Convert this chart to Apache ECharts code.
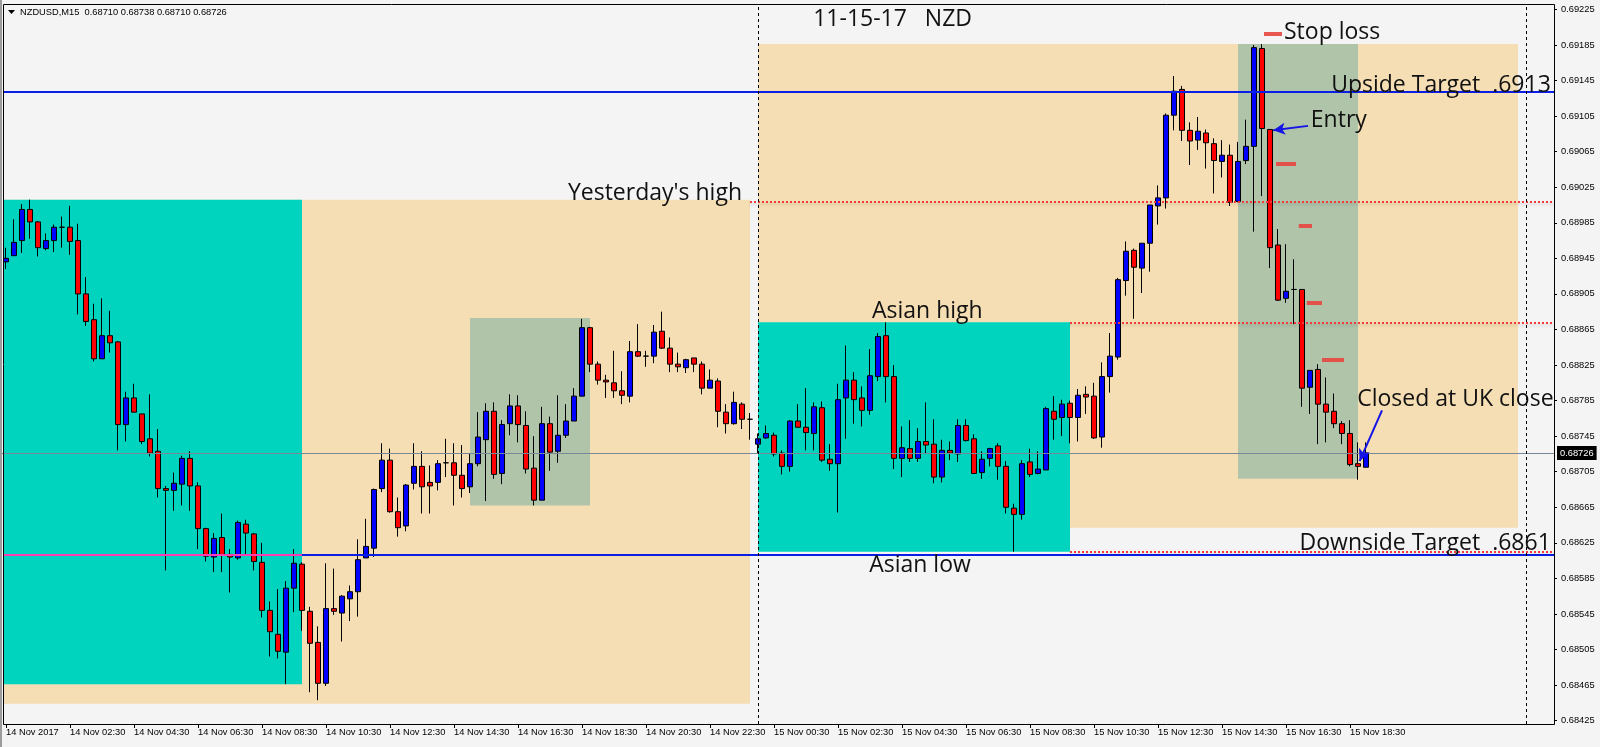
<!DOCTYPE html>
<html><head><meta charset="utf-8">
<script src="https://cdn.jsdelivr.net/npm/echarts@6/dist/echarts.min.js"></script>
<style>html,body{margin:0;padding:0;background:#F4F4F4;}#c{width:1600px;height:747px;}</style>
</head><body><div id="c"></div>
<script>
// ---- DATA ----
const headerText = 'NZDUSD,M15  0.68710 0.68738 0.68710 0.68726';
// candles: [open, close, low, high], 15-minute bars from 14 Nov 00:30
const ohlc = [
[0.68941,0.68945,0.68933,0.68957],[0.68948,0.68963,0.68948,0.68989],[0.68965,0.69000,0.68951,0.69006],[0.69000,0.68986,0.68967,0.69011],
[0.68986,0.68957,0.68947,0.68987],[0.68956,0.68965,0.68954,0.68973],[0.68965,0.68980,0.68952,0.68983],[0.68980,0.68980,0.68957,0.68992],
[0.68980,0.68964,0.68949,0.69004],[0.68965,0.68905,0.68882,0.68984],[0.68905,0.68874,0.68869,0.68924],[0.68876,0.68832,0.68829,0.68894],
[0.68832,0.68858,0.68832,0.68900],[0.68858,0.68850,0.68839,0.68886],[0.68851,0.68758,0.68729,0.68852],[0.68758,0.68788,0.68739,0.68795],
[0.68788,0.68772,0.68772,0.68804],[0.68770,0.68739,0.68736,0.68770],[0.68742,0.68726,0.68722,0.68792],[0.68728,0.68686,0.68676,0.68753],
[0.68686,0.68684,0.68594,0.68689],[0.68684,0.68692,0.68661,0.68704],[0.68691,0.68720,0.68667,0.68723],[0.68720,0.68689,0.68661,0.68728],
[0.68689,0.68641,0.68618,0.68693],[0.68641,0.68610,0.68604,0.68642],[0.68609,0.68630,0.68592,0.68636],[0.68631,0.68612,0.68592,0.68658],
[0.68612,0.68609,0.68569,0.68618],[0.68608,0.68648,0.68606,0.68650],[0.68646,0.68636,0.68612,0.68651],[0.68635,0.68604,0.68594,0.68636],
[0.68603,0.68549,0.68541,0.68625],[0.68549,0.68525,0.68497,0.68559],[0.68522,0.68503,0.68495,0.68573],[0.68502,0.68574,0.68466,0.68582],
[0.68574,0.68602,0.68547,0.68618],[0.68601,0.68549,0.68526,0.68603],[0.68548,0.68512,0.68457,0.68553],[0.68513,0.68467,0.68448,0.68531],
[0.68467,0.68551,0.68464,0.68602],[0.68551,0.68548,0.68544,0.68596],[0.68546,0.68565,0.68514,0.68566],[0.68562,0.68570,0.68537,0.68577],
[0.68570,0.68606,0.68542,0.68629],[0.68608,0.68621,0.68608,0.68652],[0.68619,0.68685,0.68609,0.68686],[0.68686,0.68718,0.68682,0.68737],
[0.68718,0.68660,0.68659,0.68731],[0.68660,0.68642,0.68632,0.68676],[0.68644,0.68690,0.68638,0.68691],[0.68692,0.68711,0.68685,0.68737],
[0.68711,0.68688,0.68658,0.68728],[0.68693,0.68689,0.68658,0.68712],[0.68693,0.68714,0.68684,0.68718],[0.68715,0.68715,0.68699,0.68742],
[0.68715,0.68701,0.68667,0.68737],[0.68701,0.68686,0.68676,0.68735],[0.68688,0.68714,0.68681,0.68726],[0.68714,0.68744,0.68711,0.68772],
[0.68741,0.68773,0.68672,0.68782],[0.68773,0.68702,0.68697,0.68783],[0.68703,0.68758,0.68691,0.68763],[0.68759,0.68779,0.68746,0.68792],
[0.68779,0.68758,0.68738,0.68791],[0.68757,0.68708,0.68703,0.68773],[0.68709,0.68673,0.68667,0.68745],[0.68673,0.68759,0.68673,0.68778],
[0.68759,0.68727,0.68706,0.68767],[0.68728,0.68746,0.68715,0.68791],[0.68746,0.68762,0.68743,0.68781],[0.68762,0.68790,0.68762,0.68799],
[0.68790,0.68867,0.68790,0.68877],[0.68867,0.68826,0.68817,0.68868],[0.68826,0.68808,0.68803,0.68829],[0.68808,0.68806,0.68788,0.68814],
[0.68805,0.68796,0.68788,0.68841],[0.68796,0.68791,0.68781,0.68818],[0.68790,0.68840,0.68783,0.68852],[0.68840,0.68835,0.68834,0.68871],
[0.68835,0.68835,0.68823,0.68841],[0.68835,0.68862,0.68827,0.68870],[0.68863,0.68844,0.68843,0.68885],[0.68844,0.68826,0.68817,0.68856],
[0.68826,0.68823,0.68817,0.68839],[0.68822,0.68831,0.68816,0.68832],[0.68833,0.68826,0.68817,0.68833],[0.68826,0.68799,0.68792,0.68829],
[0.68799,0.68808,0.68799,0.68820],[0.68807,0.68773,0.68755,0.68810],[0.68772,0.68759,0.68748,0.68781],[0.68759,0.68783,0.68758,0.68795],
[0.68781,0.68764,0.68753,0.68783],[0.68764,0.68764,0.68741,0.68771],[0.68736,0.68742,0.68726,0.68748],[0.68743,0.68748,0.68742,0.68757],
[0.68746,0.68725,0.68722,0.68749],[0.68726,0.68711,0.68702,0.68729],[0.68711,0.68762,0.68705,0.68763],[0.68762,0.68755,0.68755,0.68781],
[0.68755,0.68749,0.68729,0.68799],[0.68748,0.68778,0.68729,0.68783],[0.68777,0.68718,0.68716,0.68784],[0.68719,0.68714,0.68706,0.68736],
[0.68714,0.68786,0.68659,0.68804],[0.68788,0.68808,0.68742,0.68847],[0.68808,0.68786,0.68759,0.68817],[0.68788,0.68774,0.68756,0.68801],
[0.68774,0.68813,0.68769,0.68843],[0.68812,0.68857,0.68807,0.68861],[0.68858,0.68812,0.68783,0.68873],[0.68812,0.68720,0.68708,0.68825],
[0.68720,0.68732,0.68699,0.68756],[0.68731,0.68720,0.68716,0.68763],[0.68720,0.68739,0.68716,0.68754],[0.68739,0.68735,0.68726,0.68783],
[0.68736,0.68699,0.68692,0.68764],[0.68699,0.68729,0.68693,0.68741],[0.68729,0.68726,0.68718,0.68739],[0.68725,0.68757,0.68716,0.68764],
[0.68757,0.68740,0.68739,0.68764],[0.68742,0.68703,0.68703,0.68747],[0.68704,0.68719,0.68697,0.68728],[0.68720,0.68731,0.68711,0.68732],
[0.68734,0.68711,0.68696,0.68737],[0.68711,0.68665,0.68658,0.68717],[0.68664,0.68657,0.68615,0.68669],[0.68657,0.68714,0.68651,0.68718],
[0.68716,0.68702,0.68699,0.68731],[0.68703,0.68708,0.68702,0.68728],[0.68707,0.68776,0.68707,0.68778],[0.68773,0.68764,0.68741,0.68790],
[0.68766,0.68781,0.68745,0.68786],[0.68782,0.68766,0.68737,0.68785],[0.68766,0.68791,0.68739,0.68798],[0.68792,0.68789,0.68770,0.68801],
[0.68790,0.68743,0.68742,0.68805],[0.68744,0.68812,0.68732,0.68828],[0.68812,0.68835,0.68794,0.68861],[0.68834,0.68921,0.68831,0.68923],
[0.68920,0.68953,0.68903,0.68964],[0.68954,0.68935,0.68877,0.68956],[0.68934,0.68962,0.68906,0.68962],[0.68962,0.69005,0.68930,0.69005],
[0.69004,0.69013,0.68983,0.69027],[0.69013,0.69106,0.69001,0.69108],[0.69106,0.69133,0.69089,0.69150],[0.69135,0.69089,0.69077,0.69139],
[0.69089,0.69077,0.69050,0.69098],[0.69078,0.69088,0.69067,0.69104],[0.69086,0.69075,0.69046,0.69090],[0.69074,0.69055,0.69018,0.69080],
[0.69054,0.69061,0.69036,0.69078],[0.69061,0.69008,0.69004,0.69073],[0.69009,0.69054,0.69008,0.69076],[0.69055,0.69071,0.69051,0.69101],
[0.69071,0.69182,0.68975,0.69185],[0.69181,0.69091,0.69015,0.69186],[0.69090,0.68957,0.68934,0.69090],[0.68960,0.68898,0.68897,0.68978],
[0.68900,0.68908,0.68895,0.68961],[0.68910,0.68910,0.68871,0.68944],[0.68910,0.68799,0.68778,0.68910],[0.68800,0.68819,0.68770,0.68819],
[0.68820,0.68781,0.68736,0.68826],[0.68781,0.68772,0.68738,0.68811],[0.68773,0.68759,0.68754,0.68793],[0.68759,0.68748,0.68736,0.68762],
[0.68748,0.68713,0.68711,0.68763],[0.68714,0.68711,0.68696,0.68738],[0.68710,0.68726,0.68710,0.68738]
];
const xTickLabels = ['14 Nov 2017','14 Nov 02:30','14 Nov 04:30','14 Nov 06:30','14 Nov 08:30','14 Nov 10:30','14 Nov 12:30',
 '14 Nov 14:30','14 Nov 16:30','14 Nov 18:30','14 Nov 20:30','14 Nov 22:30','15 Nov 00:30','15 Nov 02:30','15 Nov 04:30',
 '15 Nov 06:30','15 Nov 08:30','15 Nov 10:30','15 Nov 12:30','15 Nov 14:30','15 Nov 16:30','15 Nov 18:30'];
const yTickValues = [0.68425,0.68465,0.68505,0.68545,0.68585,0.68625,0.68665,0.68705,0.68745,0.68785,0.68825,
 0.68865,0.68905,0.68945,0.68985,0.69025,0.69065,0.69105,0.69145,0.69185,0.69225];
const currentPrice = 0.68726;
const upsideTarget = 0.69132, downsideTarget = 0.68612;
const yesterdayHigh = 0.69009, asianHigh = 0.68873, asianLow = 0.68615;
// zones: bar-index start/end, price high/low
const zoneStart = [-0.25, -0.25, 58, 94, 94, 154];
const zoneEnd   = [93, 37, 73, 189, 133, 169];
const zoneHigh  = [0.69011, 0.69011, 0.68878, 0.69186, 0.68873, 0.69186];
const zoneLow   = [0.68444, 0.68466, 0.68667, 0.68642, 0.68615, 0.68697];
// order-level marks: [startIdx, endIdx, price]
const levelMarks = [[157.25,159.5,0.69198],[158.75,161.25,0.69051],[161.6,163.25,0.68982],[162.6,164.5,0.68895],[164.5,167.25,0.68831]];
// arrows: [fromIdx, fromPrice, toIdx, toPrice]
const arrows = [[162.75,0.69094,158.4,0.69089],[172,0.68774,169.2,0.68717]];
const daySeparators = [94, 190];
const annTexts = ['11-15-17   NZD','Stop loss','Upside Target  .6913','Entry',"Yesterday's high",'Asian high','Closed at UK close','Downside Target  .6861','Asian low'];
const annX     = [100.9, 159.75, 193.1, 163.1, 92, 108.25, 168.9, 193.1, 107.9];
const annPrice = [0.69214, 0.69199, 0.69140, 0.69100, 0.69018, 0.68885, 0.68786, 0.68624, 0.68599];

// ---- CHART ----
const N = 194;
const categories = [];
for (let i = 0; i < N; i++) {
  const m = 30 + 15 * i; const d = 14 + Math.floor(m / 1440); const mm = m % 1440;
  categories.push(d + ' Nov ' + String(Math.floor(mm / 60)).padStart(2, '0') + ':' + String(mm % 60).padStart(2, '0'));
}
const zoneColors = ['#F5DEB3', '#00D4BE', '#B0C4A9', '#F5DEB3', '#00D4BE', '#B0C4A9'];
const rightAligned = ['Upside Target  .6913', "Yesterday's high", 'Downside Target  .6861'];
const FONT = 'Liberation Sans';
const XMAX = 193.5, XMIN = -0.25;
const blue = '#0A1EE6';
const dotted = {color: '#F23A3A', width: 2, type: [2, 2], shadowColor: 'rgba(0,0,0,0.18)', shadowBlur: 3, shadowOffsetY: 2};

const lineItems = [
  [{coord: [XMIN, upsideTarget], lineStyle: {color: blue, width: 2, type: 'solid'}}, {coord: [XMAX, upsideTarget]}],
  [{coord: [XMIN, downsideTarget], lineStyle: {color: blue, width: 2, type: 'solid'}}, {coord: [XMAX, downsideTarget]}],
  [{coord: [XMIN, downsideTarget], lineStyle: {color: '#FF3CB4', width: 2, type: 'solid'}}, {coord: [37, downsideTarget]}],
  [{coord: [93, yesterdayHigh], lineStyle: dotted}, {coord: [XMAX, yesterdayHigh]}],
  [{coord: [133, asianHigh], lineStyle: dotted}, {coord: [XMAX, asianHigh]}],
  [{coord: [133, asianLow], lineStyle: dotted}, {coord: [XMAX, asianLow]}]
];
daySeparators.forEach(x => lineItems.push([{coord: [x, 0.684212], lineStyle: {color: '#000', width: 1, type: [3, 3]}}, {coord: [x, 0.692311]}]));
levelMarks.forEach(m => lineItems.push([{coord: [m[0], m[2]], lineStyle: {color: '#E8463F', width: 4, type: 'solid', opacity: 0.9}}, {coord: [m[1], m[2]]}]));
arrows.forEach(a => lineItems.push([
  {coord: [a[0], a[1]], symbol: 'none', lineStyle: {color: '#1414E6', width: 2, type: 'solid'}},
  {coord: [a[2], a[3]], symbol: 'arrow', symbolSize: [9, 12]}
]));

const chart = echarts.init(document.getElementById('c'), null, {renderer: 'canvas'});
chart.setOption({
  animation: false,
  backgroundColor: '#F4F4F4',
  grid: {left: 2, right: 46, top: 4, bottom: 23, containLabel: false},
  xAxis: [
    {type: 'category', data: categories, boundaryGap: true,
     axisLine: {show: false, onZero: false},
     axisTick: {show: true, alignWithLabel: true, length: 4, interval: (i) => i % 8 === 0 && i <= 168, lineStyle: {color: '#000'}},
     axisLabel: {interval: (i) => i % 8 === 0 && i <= 168, formatter: (v, i) => xTickLabels[i / 8] || '',
       align: 'left', margin: 4, fontSize: 9.3, fontFamily: FONT, color: '#000'},
     splitLine: {show: false}},
    {type: 'value', min: -0.5, max: 193.5, show: false, axisLine: {onZero: false}}
  ],
  yAxis: [{type: 'value', position: 'right', min: 0.684212, max: 0.692311, scale: true,
    axisLine: {show: false, onZero: false},
    axisTick: {show: true, customValues: yTickValues, length: 3, lineStyle: {color: '#000'}},
    axisLabel: {customValues: yTickValues, formatter: (v) => v.toFixed(5), margin: 7, fontSize: 9.3, fontFamily: FONT, color: '#000'},
    splitLine: {show: false}}],
  series: [
    {type: 'custom', xAxisIndex: 1, yAxisIndex: 0, z: 1, silent: true, clip: true,
     data: zoneStart.map((s, i) => [s, zoneEnd[i], zoneHigh[i], zoneLow[i]]),
     encode: {x: [0, 1], y: [2, 3]},
     renderItem: (params, api) => {
       const p0 = api.coord([api.value(0), api.value(2)]);
       const p1 = api.coord([api.value(1), api.value(3)]);
       return {type: 'rect', shape: {x: p0[0], y: p0[1], width: p1[0] - p0[0], height: p1[1] - p0[1]},
         style: {fill: zoneColors[params.dataIndex]}};
     }},
    {type: 'line', xAxisIndex: 1, yAxisIndex: 0, data: [], z: 2, silent: true,
     markLine: {silent: true, animation: false, symbol: ['none', 'none'],
       data: [[{coord: [-0.5, currentPrice], lineStyle: {color: '#778899', width: 1, type: 'solid'},
         label: {show: true, position: 'end', distance: 3, formatter: () => currentPrice.toFixed(5),
           backgroundColor: '#000', color: '#fff', padding: [3, 3, 2, 3], fontSize: 9.3, fontFamily: FONT}},
         {coord: [193.5, currentPrice]}]]}},
    {type: 'candlestick', xAxisIndex: 0, yAxisIndex: 0, z: 3, silent: true, barWidth: 5,
     data: ohlc,
     itemStyle: {color: '#0000FF', color0: '#FF0000', borderColor: '#000', borderColor0: '#000', borderColorDoji: '#000', borderWidth: 1}},
    {type: 'line', xAxisIndex: 1, yAxisIndex: 0, data: [], z: 4, silent: true,
     markLine: {silent: true, animation: false, symbol: ['none', 'none'], label: {show: false}, data: lineItems}},
    {type: 'custom', xAxisIndex: 1, yAxisIndex: 0, z: 5, silent: true, clip: false,
     data: annX.map((x, i) => [x, annPrice[i]]),
     renderItem: (params, api) => {
       const p = api.coord([api.value(0), api.value(1)]);
       const t = annTexts[params.dataIndex];
       return {type: 'text', x: p[0], y: p[1],
         style: {text: t, fill: '#111', fontSize: 23, fontFamily: 'Open Sans',
           align: rightAligned.indexOf(t) >= 0 ? 'right' : 'left', verticalAlign: 'middle'}};
     }}
  ],
  graphic: [
    {type: 'rect', silent: true, z: 100, shape: {x: 0, y: 0, width: 2, height: 747}, style: {fill: '#9C9C9C'}},
    {type: 'rect', silent: true, z: 100, shape: {x: 3.5, y: 4.5, width: 1551, height: 720}, style: {fill: 'none', stroke: '#000', lineWidth: 1}},
    {type: 'polygon', silent: true, z: 100, shape: {points: [[8, 10], [15, 10], [11.5, 14]]}, style: {fill: '#000'}},
    {type: 'text', silent: true, z: 100, x: 20, y: 12, style: {text: headerText, fill: '#000', fontSize: 9.3, fontFamily: FONT, verticalAlign: 'middle'}}
  ]
});
</script></body></html>
